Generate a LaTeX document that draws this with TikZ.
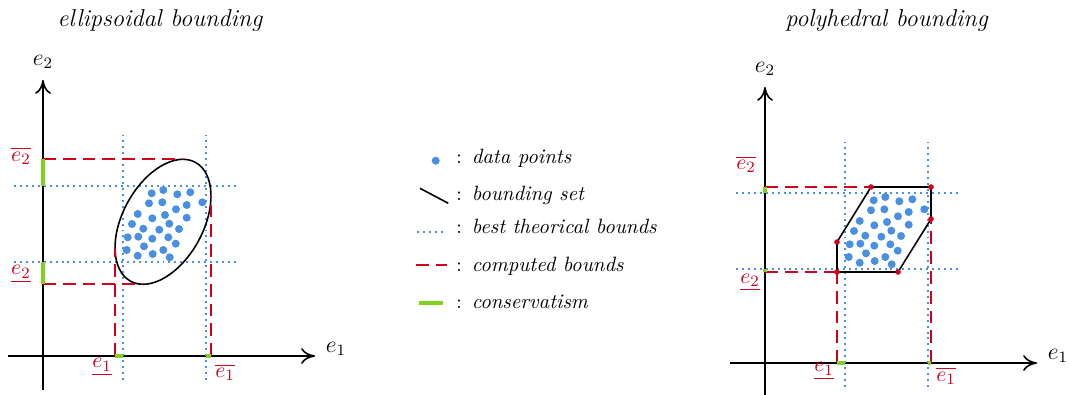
\documentclass[tikz,border=0pt]{standalone}
\usepackage{amsmath}
\usepackage{amssymb}
\usetikzlibrary{arrows.meta}
\definecolor{bndBlue}  {RGB}{74,  144, 226}
\definecolor{bndRed}   {RGB}{208,   2,  27}
\definecolor{bndGreen} {RGB}{126, 211,  33}

\tikzset{
  axisline/.style={thick,-{Computer Modern Rightarrow[length=7pt,width=8pt]}},
  bestbound/.style={bndBlue,dotted,line width=1pt},
  compbound/.style={bndRed,line width=1pt,dash pattern=on 6.5pt off 3.5pt},
  conserv/.style={bndGreen,line width=2pt},
  boundlbl/.style={bndRed,inner sep=0pt,font=\fontsize{11}{13}\selectfont},
  axislbl/.style={font=\large},
  legtext/.style={anchor=base west,inner sep=0pt,font=\fontsize{10.45}{12.5}\selectfont},
}

% pontos medidos (mesmos nos dois graficos)
\newcommand{\datapts}{108.7/162.7, 120.3/166, 134.3/161.7, 147.3/163.7, 159.3/153.7,
  106/152.7, 119.3/153.7, 133/146.7, 143.7/151,
  94.7/142, 109.3/137.7, 122/141, 143.7/138.3,
  89/132, 100.3/127.3, 116.3/126.3, 126.3/132.3, 136/127,
  84.7/118.7, 95.3/119.3, 109.3/117.3, 125.3/118.7, 132.7/112.3,
  83.7/106, 101/109.7, 94.7/100.3, 109.7/102, 120.3/106, 126.7/98.7}

% eixos, limites teoricos e pontos
\newcommand{\plotbase}[1]{%
  \draw[axisline] (-35,0) -- (272,0);
  \draw[axisline] (0,-34) -- (0,276);
  \node[axislbl] (#1-e1) at (293,7) {$e_1$};
  \node[axislbl] (#1-e2) at (0,294) {$e_2$};
  \foreach \x in {80,163} \draw[bestbound] (\x,-24) -- (\x,221);
  \foreach \y in {94,170} \draw[bestbound] (-29,\y) -- (193,\y);
  \foreach \x/\y in \datapts \fill[bndBlue] (\x,\y) circle (4);
}

\begin{document}
\begin{tikzpicture}[x=0.505pt,y=0.505pt]
  \useasboundingbox (0,0) rectangle (1069,394);

  % Titulos
  \node[font=\fontsize{12.3}{15}\selectfont\itshape] (ttl-ell) at (160,373) {ellipsoidal bounding};
  \node[font=\fontsize{12.3}{15}\selectfont\itshape] (ttl-pol) at (886.5,373) {polyhedral bounding};

  % Elipsoide
  \begin{scope}[shift={(43,38)}]
    \plotbase{ell}
    \draw[thick,rotate around={61.4:(120,134.2)}] (120,134.2) ellipse (67.7 and 40.3);
    \draw[compbound] (0,197) -- (139.9,197);
    \draw[compbound] (0,72) -- (100.1,72);
    \draw[compbound] (72,0) -- (72,108.3);
    \draw[compbound] (168,0) -- (168,160.1);
    \draw[conserv] (0,170) -- (0,197);
    \draw[conserv] (0,72) -- (0,94);
    \draw[conserv] (72,0) -- (80,0);
    \draw[conserv] (163,0) -- (168,0);
    \node[boundlbl] (ell-e2o) at (-22,200) {$\overline{e_2}$};
    \node[boundlbl] (ell-e2u) at (-22,82) {$\underline{e_2}$};
    \node[boundlbl] (ell-e1u) at (59,-11) {$\underline{e_1}$};
    \node[boundlbl] (ell-e1o) at (182,-16.5) {$\overline{e_1}$};
  \end{scope}

  % Poliedro
  \begin{scope}[shift={(765,31)}]
    \plotbase{pol}
    \draw[compbound] (0,176) -- (106,176);
    \draw[compbound] (0,91) -- (72,91);
    \draw[compbound] (72,0) -- (72,91);
    \draw[compbound] (166,0) -- (166,144);
    \draw[thick] (106,176) -- (166,176) -- (166,144) -- (133,91)
      -- (72,91) -- (72,121) -- cycle;
    \foreach \x/\y in {106/176,166/176,166/144,133/91,72/91,72/121}
      \fill[bndRed] (\x,\y) circle (2.8);
    \draw[conserv] (0,170) -- (0,176);
    \draw[conserv] (0,91) -- (0,94);
    \draw[conserv] (72,0) -- (80,0);
    \draw[conserv] (163,0) -- (166,0);
    \node[boundlbl] (pol-e2o) at (-19,198.5) {$\overline{e_2}$};
    \node[boundlbl] (pol-e2u) at (-15,80.5) {$\underline{e_2}$};
    \node[boundlbl] (pol-e1u) at (59,-8) {$\underline{e_1}$};
    \node[boundlbl] (pol-e1o) at (181,-13) {$\overline{e_1}$};
  \end{scope}

  % Legenda
  \fill[bndBlue] (435.7,233.3) circle (4);
  \draw[thick] (420,205.7) -- (448.3,190.7);
  \draw[bestbound] (417,162) -- (443,162);
  \draw[compbound] (416,129) -- (446.7,129);
  \draw[conserv] (419,91) -- (443.3,91);
  \foreach \y/\txt/\nm in {230.7/data points/pts, 194/bounding set/set,
      160.7/best theorical bounds/best, 122.3/computed bounds/comp,
      85.7/conservatism/cons}
    \node[legtext] (leg-\nm) at (456,\y) {$:$\hspace{5pt}\textit{\txt}};

\end{tikzpicture}
\end{document}
